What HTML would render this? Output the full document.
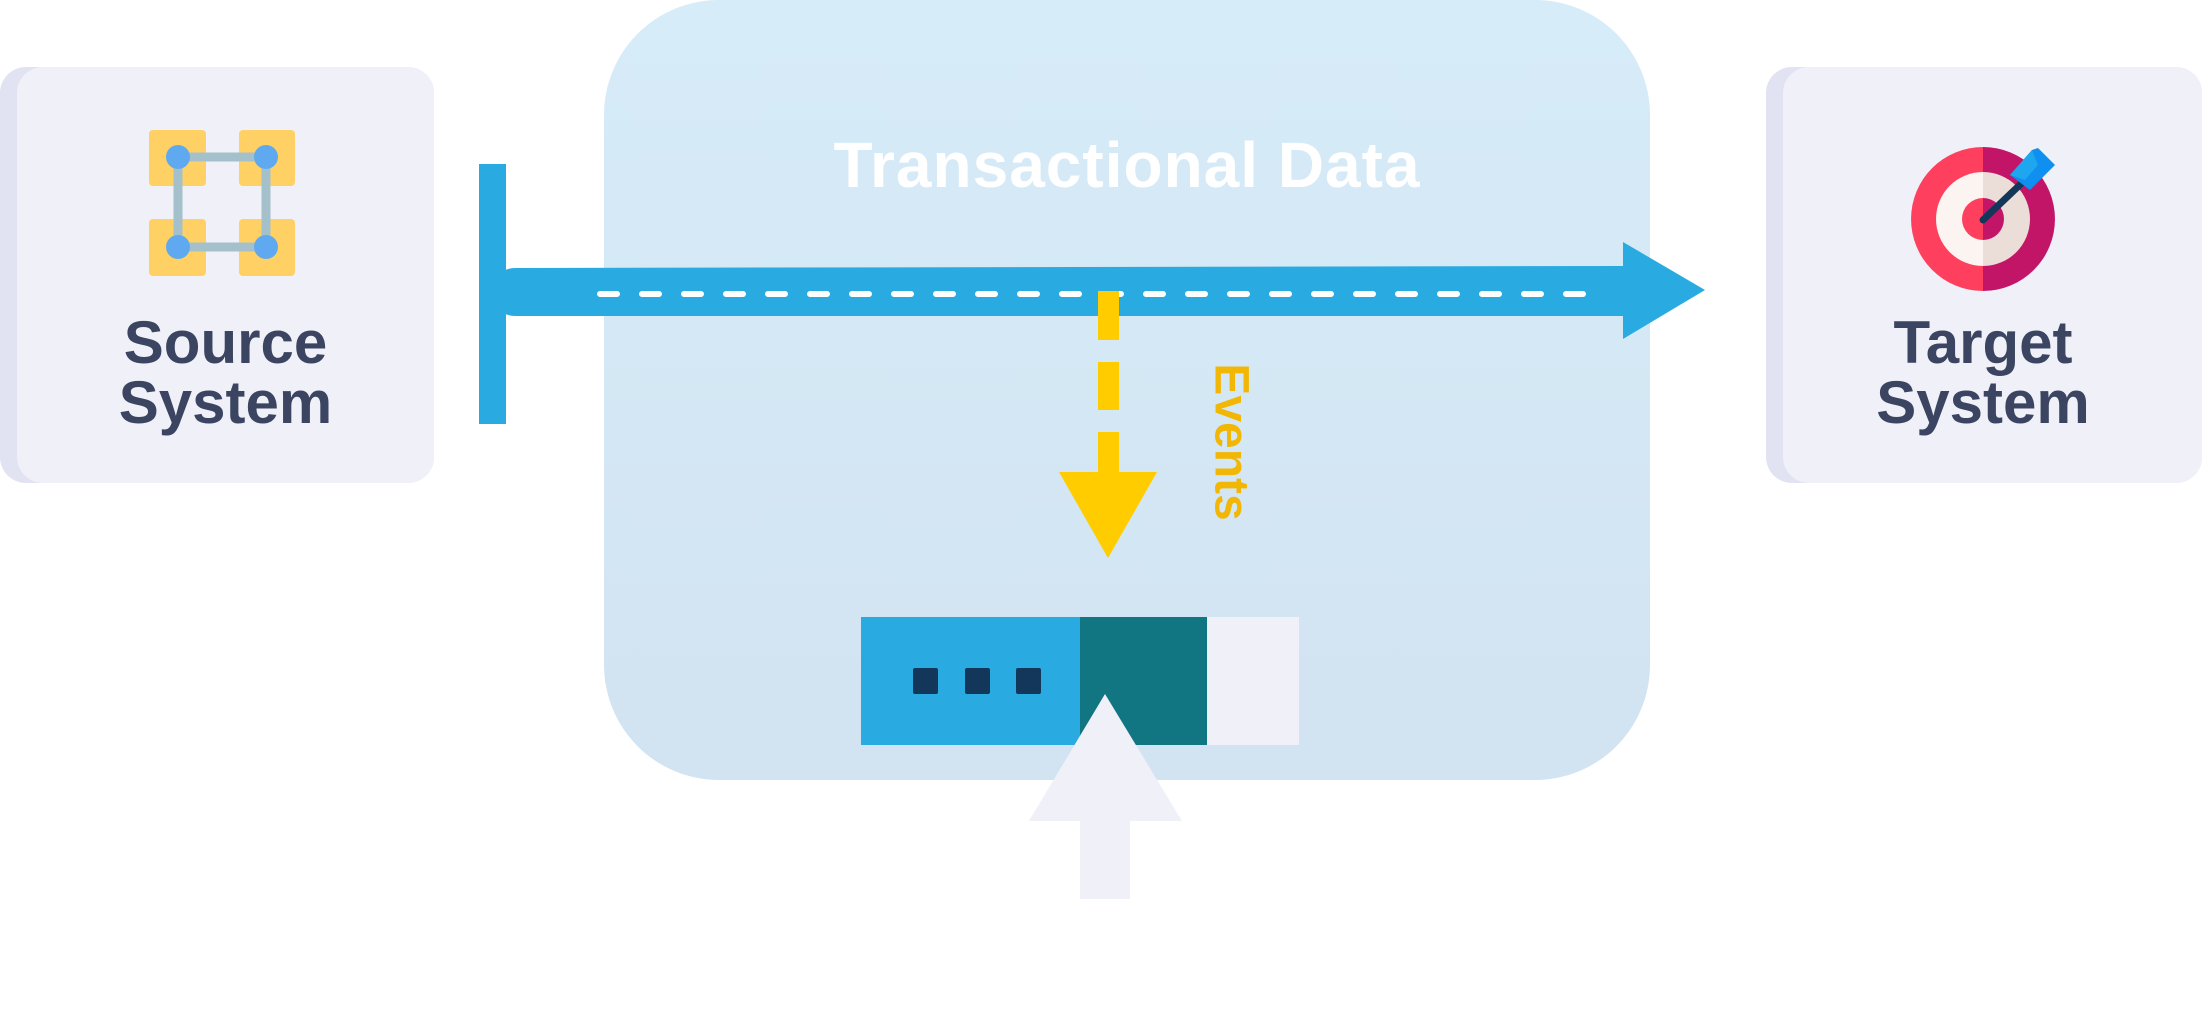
<!DOCTYPE html>
<html><head><style>
body{margin:0;width:2202px;height:1019px;background:#fff;position:relative;overflow:hidden;font-family:"Liberation Sans",sans-serif}
.a{position:absolute}
</style></head><body>
<svg class="a" style="left:0;top:0" width="2202" height="1019">
<defs><linearGradient id="g" x1="0" y1="0" x2="0" y2="1"><stop offset="0" stop-color="#d6ecf8"/><stop offset="1" stop-color="#d2e3f1"/></linearGradient></defs>
<rect x="0" y="67" width="434" height="416" rx="26" fill="#e1e2f2"/>
<rect x="17" y="67" width="417" height="416" rx="26" fill="#eff0f8"/>
<rect x="1766" y="67" width="436" height="416" rx="26" fill="#e1e2f2"/>
<rect x="1783" y="67" width="419" height="416" rx="26" fill="#eff0f8"/>
<rect x="604" y="0" width="1046" height="780" rx="115" fill="url(#g)"/>
<g fill="#ffd064"><rect x="149" y="130" width="57" height="56" rx="4"/><rect x="239" y="130" width="56" height="56" rx="4"/><rect x="149" y="219" width="57" height="57" rx="4"/><rect x="239" y="219" width="56" height="57" rx="4"/></g>
<g stroke="#a4c1cb" stroke-width="9" fill="none"><rect x="178" y="157" width="88" height="90"/></g>
<g fill="#5ea9ef"><circle cx="178" cy="157" r="12"/><circle cx="266" cy="157" r="12"/><circle cx="178" cy="247" r="12"/><circle cx="266" cy="247" r="12"/></g>
<path d="M1983 147 A72 72 0 0 0 1983 291Z" fill="#fe405e"/>
<path d="M1983 147 A72 72 0 0 1 1983 291Z" fill="#c21568"/>
<path d="M1983 172 A47 47 0 0 0 1983 266Z" fill="#fbf4f0"/>
<path d="M1983 172 A47 47 0 0 1 1983 266Z" fill="#ebded8"/>
<path d="M1983 198 A21 21 0 0 0 1983 240Z" fill="#fe405e"/>
<path d="M1983 198 A21 21 0 0 1 1983 240Z" fill="#c21568"/>
<line x1="1983" y1="220" x2="2025" y2="180" stroke="#13365b" stroke-width="7" stroke-linecap="round"/>
<path d="M2010 175 L2032 150 L2038 148 L2055 165 L2030 190Z" fill="#0f8ff0"/>
<path d="M2010 175 L2032 150 L2038 165 L2025 180Z" fill="#1ea6ee"/>
<rect x="479" y="164" width="27" height="260" fill="#29abe2"/>
<path d="M515 268 L1623 266 L1623 242 L1705 290 L1623 339 L1623 316 L515 316 A24 24 0 0 1 515 268Z" fill="#29abe2"/>
<line x1="600" y1="294" x2="1585" y2="294" stroke="#fff" stroke-width="6" stroke-dasharray="17 25" stroke-linecap="round"/>
<g fill="#ffcc00"><rect x="1098" y="291" width="21" height="49"/><rect x="1098" y="362" width="21" height="48"/><rect x="1098" y="432" width="21" height="42"/><path d="M1059 472 L1157 472 L1108 558Z"/></g>
<rect x="861" y="617" width="219" height="128" fill="#29abe2"/>
<rect x="1080" y="617" width="127" height="128" fill="#127682"/>
<rect x="1207" y="617" width="92" height="128" fill="#eff0f8"/>
<g fill="#13365b"><rect x="913" y="668" width="25" height="26" rx="2"/><rect x="965" y="668" width="25" height="26" rx="2"/><rect x="1016" y="668" width="25" height="26" rx="2"/></g>
<path d="M1105 694 L1182 821 L1130 821 L1130 899 L1080 899 L1080 821 L1029 821Z" fill="#eff0f8"/>
</svg>
<div class="a" style="left:604px;width:1046px;top:130px;text-align:center;color:#fff;font-weight:bold;font-size:64px;letter-spacing:1px;line-height:70px">Transactional Data</div>
<div class="a" style="left:17px;width:417px;top:313px;text-align:center;color:#3b4561;font-weight:bold;font-size:60px;line-height:60px">Source<br>System</div>
<div class="a" style="left:1783px;width:400px;top:313px;text-align:center;color:#3b4561;font-weight:bold;font-size:60px;line-height:60px">Target<br>System</div>
<div class="a" style="left:1231px;top:442px;width:0;height:0"><div style="transform:translate(-50%,-50%) rotate(90deg);color:#f2b705;font-weight:bold;font-size:48px;white-space:nowrap;display:inline-block">Events</div></div>
</body></html>
